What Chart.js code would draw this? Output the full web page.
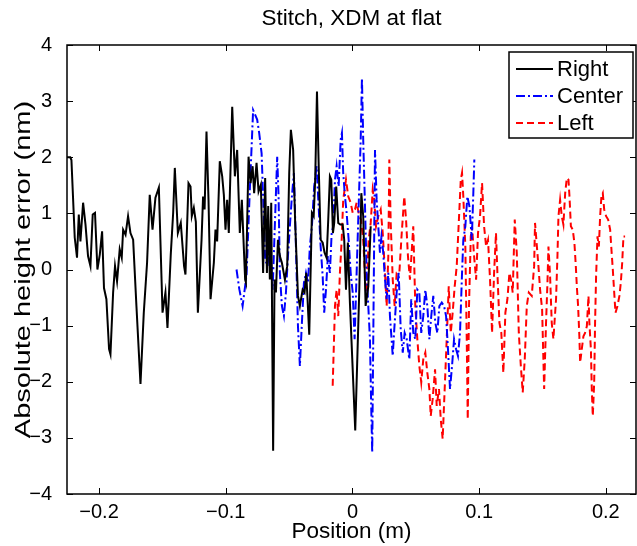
<!DOCTYPE html>
<html lang="en">
<head>
  <meta charset="UTF-8">
  <title>Stitch, XDM at flat</title>
  <script src="https://cdn.jsdelivr.net/npm/chart.js"></script>
  <style>
    html, body { margin: 0; padding: 0; background: #fff; }
    #wrap { width: 637px; height: 546px; }
  </style>
</head>
<body>
  <div id="wrap"><canvas id="chart" width="637" height="546"></canvas></div>

  <script>
    // tick positions
    const xTicks = [-0.2, -0.1, 0, 0.1, 0.2];
    const yTicks = [-4, -3, -2, -1, 0, 1, 2, 3, 4];

    // Right (black, solid)
    const rightX = [-0.2253, -0.2227, -0.2218, -0.2192, -0.2174, -0.2160, -0.2147, -0.2126, -0.2107, -0.2087,
      -0.2068, -0.2050, -0.2032, -0.2013, -0.1994, -0.1976, -0.1961, -0.1942, -0.1921, -0.1910,
      -0.1889, -0.1874, -0.1858, -0.1837, -0.1821, -0.1810, -0.1791, -0.1771, -0.1752, -0.1731,
      -0.1705, -0.1673, -0.1647, -0.1621, -0.1600, -0.1578, -0.1555, -0.1528, -0.1499, -0.1476,
      -0.1460, -0.1434, -0.1415, -0.1402, -0.1378, -0.1355, -0.1329, -0.1318, -0.1294, -0.1278,
      -0.1268, -0.1252, -0.1236, -0.1220, -0.1191, -0.1179, -0.1167, -0.1152, -0.1136, -0.1120,
      -0.1094, -0.1081, -0.1068, -0.1047, -0.1028, -0.1015, -0.1002, -0.0989, -0.0976, -0.0949,
      -0.0928, -0.0910, -0.0889, -0.0873, -0.0847, -0.0841, -0.0820, -0.0804, -0.0788, -0.0776,
      -0.0757, -0.0741, -0.0723, -0.0705, -0.0689, -0.0675, -0.0665, -0.0652, -0.0641, -0.0626,
      -0.0615, -0.0604, -0.0588, -0.0573, -0.0557, -0.0533, -0.0515, -0.0499, -0.0486, -0.0468,
      -0.0452, -0.0430, -0.0415, -0.0393, -0.0378, -0.0365, -0.0357, -0.0341, -0.0320, -0.0306,
      -0.0294, -0.0280, -0.0265, -0.0251, -0.0235, -0.0220, -0.0204, -0.0191, -0.0178, -0.0167,
      -0.0154, -0.0144, -0.0128, -0.0112, -0.0096, -0.0077, -0.0065, -0.0051, -0.0036, -0.0020,
      0.0022, 0.0054, 0.0070, 0.0085, 0.0104, 0.0125, 0.0144];
    const rightY = [2.0, 2.0, 1.95, 0.57, 0.21, 0.98, 0.5, 1.19, 0.8, 0.24,
      0.06, 0.98, 1.01, 0.0, 0.27, 0.68, -0.33, -0.53, -1.42, -1.51,
      -0.41, 0.06, -0.21, 0.36, 0.21, 0.71, 0.62, 0.95, 0.65, 0.53,
      -0.65, -2.04, -0.77, 0.12, 1.33, 0.71, 1.28, 1.46, -0.77, -0.41,
      -1.04, 0.27, 1.01, 1.81, 0.65, 0.83, 0.06, -0.09, 1.54, 1.48,
      0.95, 1.1, 0.85, -0.77, 0.53, 1.3, 1.07, 2.46, 1.24, -0.53,
      0.12, 0.71, 0.5, 1.93, 1.66, 1.33, 0.71, 1.24, 0.65, 2.9,
      1.66, 2.13, 0.65, 1.24, -0.18, -0.23, 2.01, 1.54, 1.84, 1.36,
      1.9, 1.39, 1.51, -0.06, 1.63, -0.06, 1.13, -0.18, 1.19, -3.23,
      -0.18, -0.41, 0.53, 0.24, 0.12, -0.18, 0.06, 1.72, 2.49, 2.13,
      0.83, -0.47, -0.65, -0.36, -0.41, -0.06, -0.41, -1.16, 1.01, 0.95,
      1.6, 3.17, 1.72, 0.53, 0.48, 0.3, 0.21, 0.89, 1.66, 1.6,
      0.65, 0.83, 1.48, 0.83, 0.8, 0.8, 0.53, -0.36, 0.48, -0.59,
      -2.87, -0.36, 1.36, 0.95, -0.65, -0.3, 0.77];

    // Center (blue, dash-dot)
    const centerX = [-0.0915, -0.0893, -0.0867, -0.0836, -0.0810, -0.0784, -0.0752, -0.0736, -0.0717, -0.0705,
      -0.0689, -0.0670, -0.0652, -0.0630, -0.0610, -0.0594, -0.0583, -0.0573, -0.0557, -0.0541,
      -0.0525, -0.0509, -0.0494, -0.0478, -0.0462, -0.0446, -0.0430, -0.0415, -0.0399, -0.0383,
      -0.0367, -0.0351, -0.0336, -0.0320, -0.0302, -0.0283, -0.0267, -0.0251, -0.0235, -0.0223,
      -0.0209, -0.0194, -0.0178, -0.0164, -0.0152, -0.0138, -0.0125, -0.0109, -0.0093, -0.0083,
      -0.0073, -0.0059, -0.0046, -0.0030, -0.0014, 0.0002, 0.0017, 0.0033, 0.0049, 0.0065,
      0.0075, 0.0085, 0.0099, 0.0112, 0.0125, 0.0138, 0.0148, 0.0156, 0.0178, 0.0191,
      0.0204, 0.0217, 0.0229, 0.0243, 0.0257, 0.0270, 0.0283, 0.0296, 0.0318, 0.0330,
      0.0349, 0.0365, 0.0381, 0.0397, 0.0412, 0.0428, 0.0449, 0.0464, 0.0480, 0.0496,
      0.0512, 0.0528, 0.0543, 0.0559, 0.0575, 0.0591, 0.0607, 0.0622, 0.0638, 0.0654,
      0.0670, 0.0686, 0.0705, 0.0723, 0.0739, 0.0754, 0.0770, 0.0786, 0.0802, 0.0818,
      0.0833, 0.0849, 0.0865, 0.0875, 0.0891, 0.0907, 0.0923, 0.0942, 0.0954, 0.0962];
    const centerY = [0.0, -0.35, -0.65, -0.1, 1.42, 2.84, 2.67, 2.43, 2.07, 1.3,
      0.18, 0.06, 0.53, -0.36, 0.95, 2.01, 1.3, -0.06, -0.65, -0.83,
      -0.41, 0.24, 0.77, 1.3, 1.72, 0.41, -1.01, -1.72, -0.95, -0.24,
      -0.06, -0.24, 0.41, 0.77, 1.48, 1.84, 1.13, 0.41, -0.12, -0.77,
      -0.36, 0.24, -0.06, 0.65, 0.77, 1.6, 1.84, 1.48, 2.31, 2.43,
      1.72, 1.3, 1.01, 0.53, -0.06, -0.41, -1.24, -0.06, 1.13, 2.31,
      3.41, 2.31, 1.13, -0.06, -0.65, -1.24, -2.43, -3.26, 2.13, 1.24,
      0.77, 0.3, 0.59, 0.3, -0.18, -0.53, -0.06, -0.83, -1.54, -1.07,
      -0.41, -0.06, -1.07, -1.48, -1.13, -1.24, -1.6, -0.53, -1.13, -1.24,
      -0.36, -0.41, -1.13, -0.83, -0.36, -0.65, -1.24, -0.83, -0.47, -0.95,
      -1.13, -0.65, -0.59, -0.65, -0.83, -1.42, -2.13, -1.72, -1.24, -1.42,
      -1.54, -1.13, -0.06, 0.53, 0.77, 1.3, 1.13, 0.53, 1.36, 1.96];

    // Left (red, dashed)
    const leftX = [-0.0156, -0.0138, -0.0125, -0.0112, -0.0099, -0.0085, -0.0073, -0.0051, -0.0033, -0.0014,
      0.0002, 0.0020, 0.0033, 0.0054, 0.0067, 0.0085, 0.0101, 0.0112, 0.0128, 0.0144,
      0.0160, 0.0172, 0.0186, 0.0204, 0.0223, 0.0239, 0.0257, 0.0270, 0.0283, 0.0291,
      0.0302, 0.0318, 0.0333, 0.0349, 0.0370, 0.0389, 0.0409, 0.0423, 0.0438, 0.0454,
      0.0470, 0.0480, 0.0496, 0.0512, 0.0528, 0.0543, 0.0559, 0.0575, 0.0591, 0.0607,
      0.0618, 0.0633, 0.0652, 0.0665, 0.0683, 0.0697, 0.0712, 0.0728, 0.0744, 0.0760,
      0.0776, 0.0791, 0.0807, 0.0823, 0.0839, 0.0855, 0.0865, 0.0875, 0.0891, 0.0902,
      0.0910, 0.0920, 0.0934, 0.0944, 0.0960, 0.0976, 0.0991, 0.1007, 0.1023, 0.1039,
      0.1055, 0.1070, 0.1086, 0.1102, 0.1118, 0.1133, 0.1144, 0.1160, 0.1175, 0.1191,
      0.1207, 0.1223, 0.1239, 0.1252, 0.1265, 0.1281, 0.1297, 0.1313, 0.1329, 0.1344,
      0.1360, 0.1376, 0.1392, 0.1415, 0.1434, 0.1441, 0.1468, 0.1481, 0.1497, 0.1513,
      0.1528, 0.1539, 0.1547, 0.1560, 0.1573, 0.1586, 0.1607, 0.1618, 0.1626, 0.1639,
      0.1652, 0.1665, 0.1679, 0.1692, 0.1705, 0.1713, 0.1724, 0.1739, 0.1752, 0.1763,
      0.1771, 0.1781, 0.1791, 0.1797, 0.1810, 0.1823, 0.1836, 0.1850, 0.1863, 0.1870,
      0.1882, 0.1889, 0.1897, 0.1908, 0.1915, 0.1923, 0.1934, 0.1945, 0.1955, 0.1965,
      0.1976, 0.1987, 0.2002, 0.2018, 0.2034, 0.2044, 0.2055, 0.2066, 0.2076, 0.2092,
      0.2107, 0.2118, 0.2129, 0.2139, 0.2152];
    const leftY = [-2.07, -0.65, -0.36, -0.83, -0.06, 0.53, 1.24, 1.6, 1.3, 1.19,
      1.01, 1.07, 1.19, 0.95, 0.89, 0.53, -0.18, -0.41, 0.53, 0.83,
      1.42, 1.24, 0.77, 0.95, 1.07, 0.65, -0.06, -0.65, 0.24, 1.96,
      0.83, -0.18, -0.65, -0.06, -0.06, 0.65, 1.3, 0.89, 0.24, -0.18,
      0.41, 0.77, -0.65, -1.24, -1.72, -2.01, -1.6, -1.48, -1.84, -2.13,
      -2.61, -2.31, -1.78, -2.43, -2.13, -2.67, -3.02, -2.13, -1.24, -0.3,
      -1.13, -0.77, -0.3, 0.06, 0.83, 1.6, 1.72, 1.3, 0.41, -1.24,
      -2.67, -0.65, 0.59, 0.77, 0.24, -0.18, 0.65, 0.95, 1.54, 0.77,
      0.41, 0.53, -0.18, -1.13, -0.06, 0.65, -0.06, -0.95, -1.13, -1.84,
      -0.77, -0.53, -0.06, -0.18, -0.41, 0.89, 0.3, -1.13, -1.72, -2.19,
      -1.6, -0.65, -0.41, -0.47, 0.06, 0.83, 0.06, -0.36, -0.71, -2.13,
      -0.95, -0.24, 0.41, -0.12, -0.95, -1.24, -0.53, 0.24, 0.95, 1.24,
      0.95, 0.8, 1.36, 1.63, 1.6, 1.3, 0.77, 0.71, 0.47, 0.06,
      -0.3, -0.65, -1.19, -1.66, -1.42, -1.19, -1.13, -1.01, -0.47, -0.95,
      -1.42, -2.13, -2.61, -2.01, -0.95, -0.12, 0.59, 0.41, 0.95, 1.3,
      1.36, 1.07, 0.95, 0.89, 0.71, 0.36, 0.0, -0.41, -0.77, -0.65,
      -0.47, -0.24, 0.12, 0.59, 0.59];

    const FONT = "'Liberation Sans', Arial, Helvetica, sans-serif";
    const TITLE = 'Stitch, XDM at flat';
    const Y_LABEL = 'Absolute height error (nm)';

    function pairs(xs, ys) {
      return xs.map((x, i) => ({ x: x, y: ys[i] }));
    }

    function minusSign(v) {
      return v < 0 ? '\u2212' + Math.abs(v) : String(v);
    }

    // MATLAB style box, inward ticks, title, y label and legend
    const boxPlugin = {
      id: 'matlabBox',
      afterDatasetsDraw(chart) {
        const ctx = chart.ctx;
        const a = chart.chartArea;
        const xs = chart.scales.x, ys = chart.scales.y;
        const tl = 6;
        ctx.save();
        ctx.strokeStyle = '#000';
        ctx.lineWidth = 1;
        ctx.beginPath();
        xTicks.forEach(v => {
          const px = Math.round(xs.getPixelForValue(v)) + 0.5;
          ctx.moveTo(px, a.bottom); ctx.lineTo(px, a.bottom - tl);
          ctx.moveTo(px, a.top); ctx.lineTo(px, a.top + tl);
        });
        yTicks.forEach(v => {
          const py = Math.round(ys.getPixelForValue(v)) + 0.5;
          ctx.moveTo(a.left, py); ctx.lineTo(a.left + tl, py);
          ctx.moveTo(a.right, py); ctx.lineTo(a.right - tl, py);
        });
        ctx.stroke();
        ctx.lineWidth = 1.5;
        ctx.strokeRect(a.left, a.top, a.right - a.left, a.bottom - a.top);

        // title, centred over the axes
        ctx.fillStyle = '#000';
        ctx.font = '22.5px ' + FONT;
        ctx.textAlign = 'center';
        ctx.textBaseline = 'middle';
        ctx.fillText(TITLE, (a.left + a.right) / 2, 19);

        // y label, stretched along its length like the original
        ctx.save();
        ctx.translate(24, (a.top + a.bottom) / 2);
        ctx.rotate(-Math.PI / 2);
        ctx.scale(1.32, 1);
        ctx.font = '22px ' + FONT;
        ctx.fillText(Y_LABEL, 0, 0);
        ctx.restore();

        // legend
        const lw = 124, lh = 86;
        const lx = a.right - lw - 3, ly = a.top + 7;
        ctx.fillStyle = '#fff';
        ctx.fillRect(lx, ly, lw, lh);
        ctx.lineWidth = 1.5;
        ctx.strokeRect(lx, ly, lw, lh);
        ctx.font = '22px ' + FONT;
        ctx.textBaseline = 'middle';
        ctx.textAlign = 'left';
        chart.data.datasets.forEach((ds, i) => {
          const ry = ly + 17 + i * 27;
          ctx.save();
          ctx.strokeStyle = ds.borderColor;
          ctx.lineWidth = ds.borderWidth;
          ctx.setLineDash(ds.borderDash || []);
          ctx.beginPath();
          ctx.moveTo(lx + 7, ry);
          ctx.lineTo(lx + 44, ry);
          ctx.stroke();
          ctx.restore();
          ctx.fillStyle = '#000';
          ctx.fillText(ds.label, lx + 48, ry + 1);
        });
        ctx.restore();
      }
    };

    new Chart(document.getElementById('chart'), {
      type: 'line',
      data: {
        datasets: [
          { label: 'Right', data: pairs(rightX, rightY), borderColor: '#000000', borderWidth: 2, borderDash: [] },
          { label: 'Center', data: pairs(centerX, centerY), borderColor: '#0000ff', borderWidth: 2, borderDash: [9, 3, 2, 3] },
          { label: 'Left', data: pairs(leftX, leftY), borderColor: '#ff0000', borderWidth: 2, borderDash: [7, 4] }
        ]
      },
      options: {
        responsive: false,
        animation: false,
        devicePixelRatio: 1,
        layout: { padding: { left: 0, right: 1, top: 45, bottom: 0 } },
        elements: {
          point: { radius: 0 },
          line: { tension: 0, fill: false }
        },
        scales: {
          x: {
            type: 'linear',
            min: -0.2253,
            max: 0.2238,
            grid: { display: false },
            border: { display: false },
            afterBuildTicks: s => { s.ticks = xTicks.map(v => ({ value: v })); },
            afterFit: s => { s.height = 52; },
            ticks: {
              color: '#000',
              font: { family: FONT, size: 20 },
              padding: -2,
              maxRotation: 0,
              callback: v => minusSign(v)
            },
            title: {
              display: true,
              text: 'Position (m)',
              color: '#000',
              font: { family: FONT, size: 22.5 },
              padding: { top: 0, bottom: 1 }
            }
          },
          y: {
            type: 'linear',
            min: -4,
            max: 4,
            grid: { display: false },
            border: { display: false },
            afterBuildTicks: s => { s.ticks = yTicks.map(v => ({ value: v })); },
            afterFit: s => { s.width = 67; },
            ticks: {
              color: '#000',
              font: { family: FONT, size: 20 },
              padding: 7,
              callback: v => minusSign(v)
            }
          }
        },
        plugins: {
          legend: { display: false },
          tooltip: { enabled: false },
          title: { display: false }
        }
      },
      plugins: [boxPlugin]
    });
  </script>
</body>
</html>
